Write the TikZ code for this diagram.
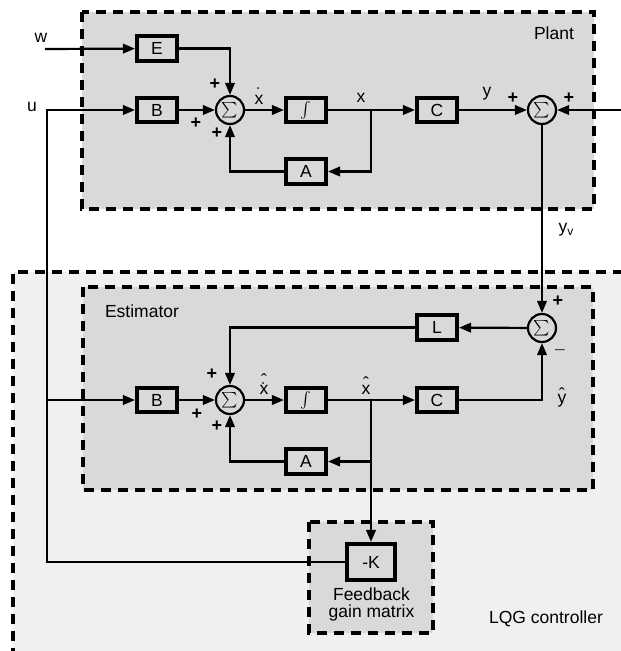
\documentclass[tikz,border=0pt]{standalone}
\usepackage{fontspec}
\usepackage{graphicx}
\setmainfont{Liberation Sans}
\usetikzlibrary{arrows.meta}
\definecolor{boxgray}{RGB}{217,217,217}
\definecolor{ctrlgray}{RGB}{240,240,240}
\newcommand\sumsym{\scalebox{1.55}{$\textstyle\sum$}}
\newcommand\intsym{\scalebox{1.6}{$\textstyle\int$}}
\newcommand\dotacc{\char"02D9}
\newcommand\hatacc{\char"02C6}
\begin{document}
\begin{tikzpicture}[x=1pt,y=-1pt,
  font=\fontsize{17.5}{20}\selectfont,
  blk/.style={draw, line width=3.6pt, fill=boxgray, minimum width=40.5pt, minimum height=24.5pt, inner sep=0pt},
  sumn/.style={draw, circle, line width=2.2pt, minimum size=28pt, inner sep=0pt, fill=boxgray},
  wire/.style={line width=2.2pt},
  arr/.style={wire, -{Triangle[length=12pt,width=9.5pt]}},
  dbox/.style={draw, line width=3.3pt, dash pattern=on 10pt off 7pt},
  lbl/.style={anchor=base, inner sep=0pt},
  pm/.style={inner sep=0pt, font=\fontsize{18}{20}\selectfont\bfseries}]
\useasboundingbox (0,0) rectangle (621,651);
\clip (0,0) rectangle (621,651);
\fill[white] (0,0) rectangle (621,651);
% LQG controller area
\fill[ctrlgray] (13,272) rectangle (640,670);
\draw[dbox] (640,272) -- (13,272) -- (13,670);
% plant
\draw[dbox, fill=boxgray] (82,12) rectangle (594,209);
% estimator
\draw[dbox, fill=boxgray] (83,287) rectangle (593,490);
% feedback gain box
\draw[dbox, fill=boxgray] (309,522) rectangle (433,633);

% blocks
\node[blk] (E) at (157,48.5) {E};
\node[blk] (B1) at (157,110) {B};
\node[sumn] (S1) at (230,110) {\sumsym};
\node[blk] (I1) at (306,110) {\intsym};
\node[blk] (A1) at (306,171.5) {A};
\node[blk] (C1) at (437,110) {C};
\node[sumn] (S2) at (542,110) {\sumsym};
\node[blk] (B2) at (157,400) {B};
\node[sumn] (S3) at (230,400) {\sumsym};
\node[blk] (I2) at (306,400) {\intsym};
\node[blk] (A2) at (306,461.5) {A};
\node[blk] (C2) at (437,400) {C};
\node[blk] (L) at (437,327.5) {L};
\node[sumn] (S4) at (542,328) {\sumsym};
\node[blk, minimum width=47.5pt, minimum height=36.5pt] (K) at (371,562) {-K};

% coordinates
\coordinate (win) at (45,49);
\coordinate (rin) at (621,110);
\coordinate (x1) at (371,110);
\coordinate (x2) at (371,400);
\coordinate (ucorner) at (47,110);
\coordinate (ubranch) at (47,400);

% wires
\draw[arr] (win) -- (E);
\draw[arr] (E.east) -| (S1.north);
\draw[arr] (B1) -- (S1);
\draw[arr] (S1) -- (I1);
\draw[arr] (I1) -- (C1);
\draw[arr] (x1) |- (A1.east);
\draw[arr] (A1.west) -| (S1.south);
\draw[arr] (C1) -- (S2);
\draw[arr] (rin) -- (S2);
\draw[arr] (S2) -- (S4);
\draw[arr] (S4) -- (L);
\draw[arr] (L.west) -| (S3.north);
\draw[arr] (B2) -- (S3);
\draw[arr] (S3) -- (I2);
\draw[arr] (I2) -- (C2);
\draw[arr] (x2) |- (A2.east);
\draw[arr] (A2.west) -| (S3.south);
\draw[arr] (x2) -- (K.north);
\draw[arr] (C2.east) -| (S4.south);
\draw[arr] (K.west) -| (ucorner) -- (B1.west);
\draw[arr] (ubranch) -- (B2.west);

% signal labels
\node[lbl] (wl) at (41,42) {w};
\node[lbl] (ul) at (32,111) {u};
\node[lbl] (xd1) at (259,104) {x};
\node[lbl] (xd1dot) at (259,100.5) {\dotacc};
\node[lbl] (x1l) at (361,102) {x};
\node[lbl] (y1l) at (487,96) {y};
\node[lbl] (yvl) at (566,232) {y\raisebox{-3.5pt}{\fontsize{12}{13}\selectfont v}};
\node[lbl] (xd2) at (264,394.5) {x};
\node[lbl] (xd2dot) at (264,395.5) {\dotacc};
\node[lbl] (xd2hat) at (264,386.5) {\hatacc};
\node[lbl] (x2l) at (366,394.5) {x};
\node[lbl] (x2hat) at (366,389) {\hatacc};
\node[lbl] (y2l) at (562,403) {y};
\node[lbl] (y2hat) at (562,400) {\hatacc};

% signs
\node[pm] (p1) at (215,84) {+};
\node[pm] (p2) at (196,123) {+};
\node[pm] (p3) at (217,133) {+};
\node[pm] (p4) at (513,98) {+};
\node[pm] (p5) at (569,98) {+};
\node[pm] (p6) at (212,374) {+};
\node[pm] (p7) at (197,414) {+};
\node[pm] (p8) at (217,426) {+};
\node[pm] (p9) at (558,301) {+};
\node[inner sep=0pt, text=black!75] (m1) at (560,352) {\textendash};

% titles
\node[lbl] (plant) at (554,39) {Plant};
\node[lbl] (est) at (142,317) {Estimator};
\node[lbl] (lqg) at (546,623) {LQG controller};
\node[lbl] (fb1) at (371.5,600.5) {Feedback};
\node[lbl] (fb2) at (371.5,617) {gain matrix};
\end{tikzpicture}
\end{document}
